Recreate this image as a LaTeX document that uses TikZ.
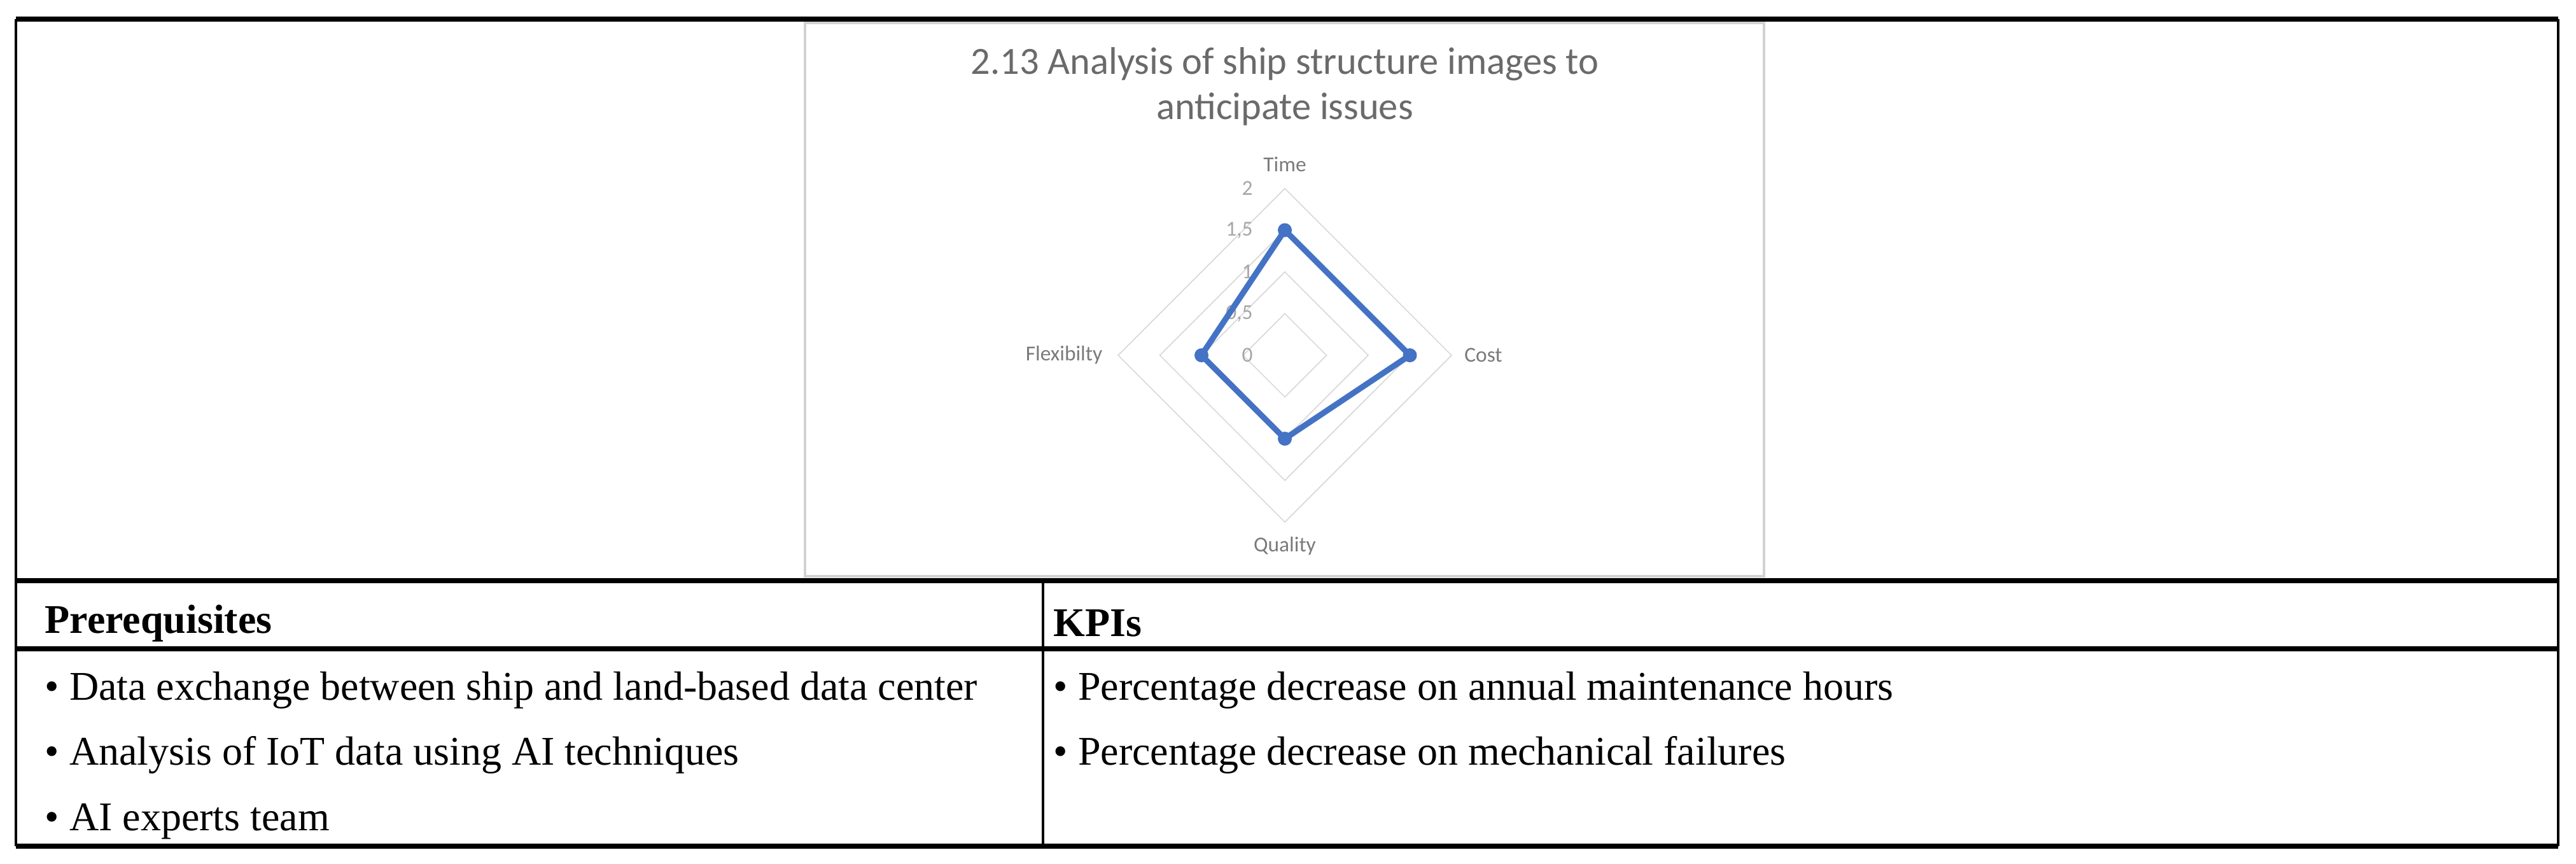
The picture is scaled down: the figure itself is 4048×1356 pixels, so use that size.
\documentclass[tikz,border=0pt]{standalone}
\usepackage{fontspec}
\setmainfont{Liberation Serif}
\newfontfamily\chartfont{Carlito}
\usepackage{tikz}
\usetikzlibrary{positioning,calc}
\definecolor{seriesblue}{RGB}{68,114,196}
\definecolor{chartgray}{RGB}{89,89,89}
\begin{document}
\begin{tikzpicture}[x=0.01cm,y=-0.01cm,
    rule/.style={line width=2.2pt},
    thinrule/.style={line width=1pt},
    cell/.style={anchor=west,font=\fontsize{18.2}{20}\selectfont,inner sep=0pt},
    axislbl/.style={font=\chartfont\fontsize{9.5}{11}\selectfont,text=chartgray!80},
    ticklbl/.style={font=\chartfont\fontsize{9.5}{11}\selectfont,text=gray!70},
    ring/.style={draw=gray!30,line width=0.5pt}]
    \useasboundingbox (0,0) rectangle (4048,1356);
    % Table frame
    \draw[rule] (25,30) -- (4020,30);
    \draw[thinrule] (25,30) -- (25,1329) (4020,30) -- (4020,1329);
    \draw[rule] (25,912) -- (4020,912);
    \draw[rule] (25,1019) -- (4020,1019);
    \draw[rule] (25,1329) -- (4020,1329);
    \draw[thinrule] (1639,912) -- (1639,1329);

    % Chart area
    \draw[gray!35,line width=1pt] (1265,36) rectangle (2772,905);
    \node[font=\chartfont\fontsize{17.2}{20}\selectfont,text=chartgray!90,align=center] (title) at (2019,136)
        {2.13 Analysis of ship structure images to\\anticipate issues};

    \coordinate (ctr) at (2019,558);
    % Rings
    \foreach \r in {65.5,131,196.5,262}
        \draw[ring] ($(ctr)+(0,-\r)$) -- ($(ctr)+(\r,0)$) -- ($(ctr)+(0,\r)$) -- ($(ctr)+(-\r,0)$) -- cycle;
    % Tick labels
    \foreach \v/\t in {0/0,1/{0,5},2/1,3/{1,5},4/2}
        \node[ticklbl,anchor=east] at ($(ctr)+(-38,-65.5*\v)$) {\t};

    % Axis labels
    \node[axislbl] (time) at (2019,258) {Time};
    \node[axislbl] (cost) at (2331,558) {Cost};
    \node[axislbl] (quality) at (2019,858) {Quality};
    \node[axislbl] (flex) at (1672,558) {Flexibilty};

    % Series
    \coordinate (pt) at ($(ctr)+(0,-196.5)$);
    \coordinate (pc) at ($(ctr)+(196.5,0)$);
    \coordinate (pq) at ($(ctr)+(0,131)$);
    \coordinate (pf) at ($(ctr)+(-131,0)$);
    \draw[seriesblue,line width=2.6pt,line join=round] (pt) -- (pc) -- (pq) -- (pf) -- cycle;
    \foreach \p in {pt,pc,pq,pf}
        \fill[seriesblue] (\p) circle (11);

    % Table text
    \node[cell,font=\fontsize{18.2}{20}\selectfont\bfseries] (prereq) at (70,979) {Prerequisites};
    \node[cell,font=\fontsize{18.2}{20}\selectfont\bfseries] (kpis) at (1655,979) {KPIs};
    \node[cell] (p1) at (70,1084) {\textbullet\ Data exchange between ship and land-based data center};
    \node[cell] (p2) at (70,1186) {\textbullet\ Analysis of IoT data using AI techniques};
    \node[cell] (p3) at (70,1290) {\textbullet\ AI experts team};
    \node[cell] (k1) at (1655,1084) {\textbullet\ Percentage decrease on annual maintenance hours};
    \node[cell] (k2) at (1655,1186) {\textbullet\ Percentage decrease on mechanical failures};
\end{tikzpicture}
\end{document}
